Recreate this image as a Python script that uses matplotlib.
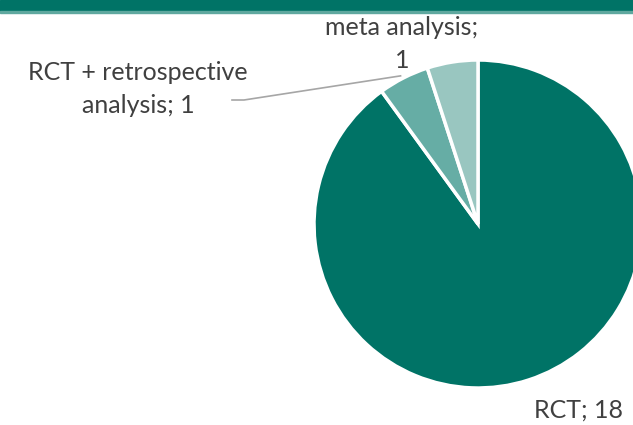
import matplotlib.pyplot as plt
import numpy as np

# study design counts
labels = ["RCT", "RCT + retrospective\nanalysis", "meta analysis"]
counts = [18, 1, 1]
colors = ["#007366", "#66ADA5", "#99C6C0"]

W, H = 633, 425
fig = plt.figure(figsize=(W / 100, H / 100), dpi=100)
ax = fig.add_axes([0, 0, 1, 1])

# green header band
ax.add_patch(plt.Rectangle((0, H - 11), W, 11, color="#007366", zorder=3))
ax.add_patch(plt.Rectangle((0, H - 13), W, 2, color="#5FA89F", zorder=3))

cx, cy, r = 478, 201, 164
wedges, _ = ax.pie(counts, colors=colors, startangle=90, counterclock=False,
                   center=(cx, cy), radius=r, frame=True,
                   wedgeprops=dict(edgecolor="white", linewidth=2.5))
ax.set_xlim(0, W)
ax.set_ylim(0, H)
ax.set_aspect("equal")
ax.axis("off")

font = dict(family=["Lato", "DejaVu Sans"], size=18, color="#404040")
ax.text(578, 15, f"{labels[0]}; {counts[0]}", ha="center", va="center", **font)
ax.text(138, 336, f"{labels[1]}; {counts[1]}", ha="center", va="center",
        linespacing=1.5, **font)
ax.text(402, 381, f"{labels[2]};\n{counts[2]}", ha="center", va="center",
        linespacing=1.5, **font)

# leader line to the retrospective wedge
w = wedges[1]
mid = np.deg2rad((w.theta1 + w.theta2) / 2)
ex, ey = cx + r * np.cos(mid), cy + r * np.sin(mid)
ax.plot([232, 244, ex - 3], [325, 325, ey + 2], color="#A6A6A6", lw=1.2)

fig.savefig("out.png", dpi=100)
